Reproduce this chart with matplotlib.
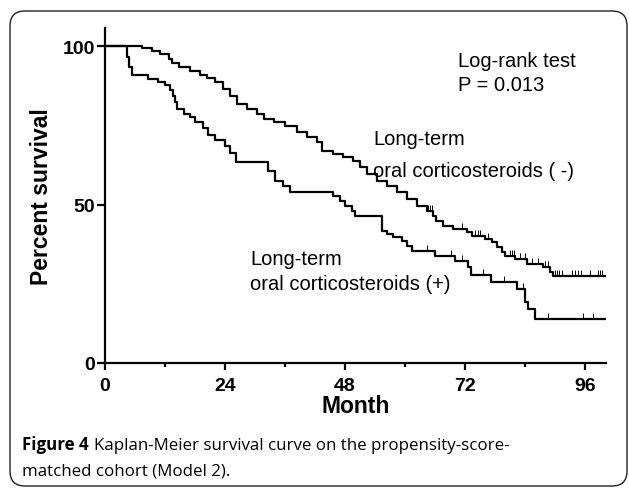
import matplotlib
matplotlib.use("Agg")
from matplotlib import pyplot as plt
from matplotlib.patches import FancyBboxPatch
from matplotlib.ticker import MultipleLocator

# Long-term oral corticosteroids (-)
t_neg = [0, 7.4, 9.4, 11, 12.7, 13.3, 14.7, 17, 19, 20.3, 22, 23.6, 25, 26.3, 28.3,
         30.3, 31.7, 33.7, 36, 38.4, 40.4, 42.4, 43.4, 45.6, 47.6, 49.6, 51, 52.3,
         54.4, 56.3, 58.3, 60.4, 62.4, 64.4, 65.6, 66.2, 67.6, 69.6, 72.4, 73.4, 76,
         77.4, 78.4, 79.4, 80, 82, 84.4, 87.6, 89, 89.6, 100]
s_neg = [100, 99.3, 98.4, 97.5, 95.9, 94.6, 93.4, 92.1, 90.9, 89.9, 88.6, 86.4, 84.2,
         81.7, 80.1, 78.5, 77, 76, 74.8, 72.9, 71.3, 69.7, 66.9, 65.9, 65, 63.7, 61.8,
         59.6, 57.4, 55.8, 53.9, 51.7, 49.5, 47.9, 46.4, 44.8, 43.2, 42.3, 41.3, 40.1,
         39.1, 38.2, 36.6, 35, 33.8, 32.8, 31.2, 30.3, 28.7, 27.4, 27.4]
cens_neg = [64.6, 65.0, 65.3, 71.4, 74, 74.5, 75, 76.6, 81, 81.4, 81.8, 83, 84, 85.4,
            86.6, 88, 88.6, 90, 90.4, 90.8, 91.4, 93.4, 94, 94.6, 95.2, 97, 98.6, 99, 99.4]

# Long-term oral corticosteroids (+)
t_pos = [0, 4.3, 4.8, 5.3, 8.6, 10.6, 12, 13, 13.6, 14, 14.4, 15.8, 17, 18, 19.6, 20.6,
         22, 24, 25, 26.2, 32.6, 34, 35.6, 37, 45.6, 47, 48, 49.4, 50, 55.4, 56.4, 57.6,
         59.4, 60.4, 61.4, 66, 70, 72.6, 73.2, 77.2, 82.4, 84, 84.6, 86, 100]
s_pos = [100, 96.5, 93.5, 90.9, 89.6, 88.6, 87.7, 86.1, 84.2, 82.3, 80.1, 78.5, 77.6, 76,
         74.1, 71.9, 70.3, 68.5, 66.2, 63.4, 60.6, 57.4, 55.8, 53.9, 52.7, 51.1, 49.5,
         47.9, 46.4, 41.6, 40.7, 39.7, 38.5, 36.9, 35.3, 33.8, 32.2, 30.2, 27.7, 25.4,
         23.3, 19.2, 17, 13.9, 13.9]
cens_pos = [64.4, 69.2, 71.4, 75.6, 79.8, 83.6, 88.6, 95.6, 97.6]

xticks = [0, 24, 48, 72, 96]
yticks = [0, 50, 100]


def surv_at(times, surv, t):
    val = surv[0]
    for ti, si in zip(times, surv):
        if ti <= t:
            val = si
    return val


plt.rcParams['font.family'] = ['Liberation Sans', 'DejaVu Sans']

fig = plt.figure(figsize=(6.29, 4.89), dpi=100)
ax = fig.add_axes([105 / 629, 125 / 489, 501 / 629, 335 / 489])

ax.step(t_neg, s_neg, where='post', color='black', lw=1.6)
ax.step(t_pos, s_pos, where='post', color='black', lw=1.6)
for t in cens_neg:
    y = surv_at(t_neg, s_neg, t)
    ax.vlines(t, y, y + 2.0, color='black', lw=0.7)
for t in cens_pos:
    y = surv_at(t_pos, s_pos, t)
    ax.vlines(t, y, y + 2.0, color='black', lw=0.7)

ax.set_xlim(0, 100.2)
ax.set_ylim(0, 105.7)
ax.set_xticks(xticks)
ax.set_yticks(yticks)
ax.xaxis.set_minor_locator(MultipleLocator(12))
for s in ['top', 'right']:
    ax.spines[s].set_visible(False)
for s in ['left', 'bottom']:
    ax.spines[s].set_linewidth(1.6)
ax.tick_params(axis='x', which='major', length=5, width=1.6, pad=5, labelsize=14)
ax.tick_params(axis='x', which='minor', length=3, width=1.6)
ax.tick_params(axis='y', length=6, width=1.6, pad=1, labelsize=14)
for lab in ax.get_xticklabels() + ax.get_yticklabels():
    lab.set_fontweight('bold')

ax.set_xlabel("Month", fontsize=16.5, fontweight='bold', labelpad=0)
ax.set_ylabel("Percent survival", fontsize=16.5, fontweight='bold', labelpad=7)

ax.text(70.6, 93.7, "Log-rank test", fontsize=14.5, va='baseline')
ax.text(70.6, 86.2, "P = 0.013", fontsize=14.5, va='baseline')
ax.text(53.6, 69.1, "Long-term", fontsize=14.5, va='baseline')
ax.text(53.6, 59.0, "oral corticosteroids ( -)", fontsize=14.5, va='baseline')
ax.text(29.0, 31.2, "Long-term", fontsize=14.5, va='baseline')
ax.text(29.0, 23.3, "oral corticosteroids (+)", fontsize=14.5, va='baseline')

# rounded frame around figure
box = FancyBboxPatch((0.10, 0.02), 6.17, 4.75, boxstyle="round,pad=0,rounding_size=0.15",
                     transform=fig.dpi_scale_trans, fill=False, lw=1.0, ec='#222222')
fig.patches.append(box)

# caption
cap = fig.text(22 / 629, 39 / 489, "Figure 4", fontsize=12.2, fontweight='bold',
               family='Open Sans', va='baseline', color='black')
fig.canvas.draw()
bb = cap.get_window_extent()
fig.text((bb.x1 + 5) / 629, 39 / 489, "Kaplan-Meier survival curve on the propensity-score-",
         fontsize=12.2, family='Open Sans', va='baseline', color='black')
fig.text(22 / 629, 13 / 489, "matched cohort (Model 2).", fontsize=12.2,
         family='Open Sans', va='baseline', color='black')

plt.savefig("out.png", dpi=100)
